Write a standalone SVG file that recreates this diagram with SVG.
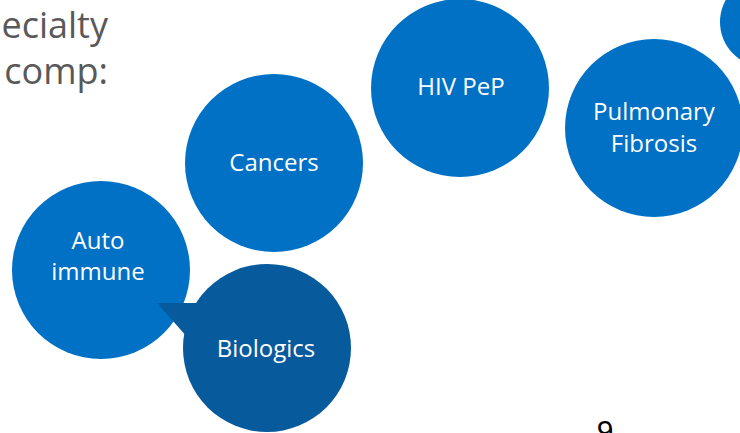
<svg xmlns="http://www.w3.org/2000/svg" width="740" height="433" viewBox="0 0 740 433">
<style>
.b{fill:#0071c5}
.d{fill:#075a9b}
.t{fill:#fff;font-family:"Open Sans","Noto Sans",sans-serif;font-size:24px;text-anchor:middle}
.h{fill:#595959;font-family:"Open Sans","Noto Sans",sans-serif;font-size:36px;text-anchor:end}
</style>
<rect width="740" height="433" fill="#fff"/>
<text class="h" x="108" y="38">ecialty</text>
<text class="h" x="108" y="84">comp:</text>
<g id="corner"><circle class="b" cx="765" cy="22" r="45"/></g>
<g id="hiv"><circle class="b" cx="460" cy="88" r="89"/><text class="t" x="461" y="95">HIV PeP</text></g>
<g id="pulmonary"><circle class="b" cx="654" cy="128" r="89"/><text class="t" x="654" y="120">Pulmonary</text><text class="t" x="654" y="152">Fibrosis</text></g>
<g id="cancers"><circle class="b" cx="274" cy="163" r="89"/><text class="t" x="274" y="171">Cancers</text></g>
<g id="auto"><circle class="b" cx="101" cy="270" r="89"/><text class="t" x="98" y="249">Auto</text><text class="t" x="98" y="280">immune</text></g>
<g id="biologics"><circle class="d" cx="267" cy="348" r="84"/><polygon class="d" points="157,303 202,303 188,338"/><text class="t" x="266" y="357">Biologics</text></g>
<g id="connectors"></g>
<text x="605" y="441" font-family="'Liberation Sans',Arial,sans-serif" font-size="30" fill="#000" text-anchor="middle">9</text>
</svg>
